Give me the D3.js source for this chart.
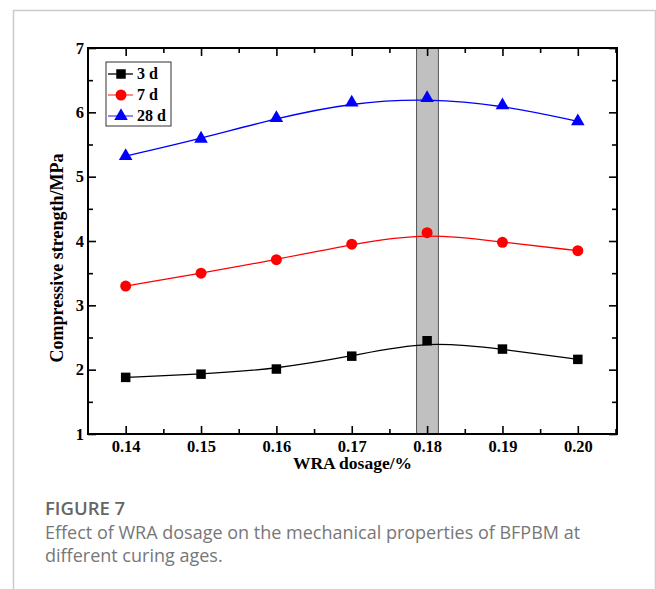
<!DOCTYPE html>
<meta charset="utf-8">
<style>
  body { margin: 0; background: #fff; }
  .tick text { font-family: "Liberation Serif", "Times New Roman", serif; font-weight: bold; font-size: 16.5px; }
  .cap { font-family: "Open Sans", "Noto Sans", sans-serif; }
</style>
<svg width="656" height="589"></svg>
<script src="https://cdn.jsdelivr.net/npm/d3@7"></script>
<script>
  var dosage = [0.14, 0.15, 0.16, 0.17, 0.18, 0.19, 0.20];
  var s3d = [1.88, 1.93, 2.01, 2.21, 2.45, 2.32, 2.16];
  var s7d = [3.30, 3.50, 3.71, 3.95, 4.13, 3.98, 3.85];
  var s28d = [5.32, 5.59, 5.91, 6.15, 6.22, 6.11, 5.86];
  var seriesNames = ["3 d", "7 d", "28 d"];
  var band = [0.1786, 0.1815];
  var xTicks = [0.14, 0.15, 0.16, 0.17, 0.18, 0.19, 0.20];
  var yTicks = [1, 2, 3, 4, 5, 6, 7];

  var svg = d3.select("svg");
  var pl = 88, pr = 617, pt = 48, pb = 434;

  // card border
  svg.append("path")
      .attr("d", "M13.5,589V10.5H655.5V589")
      .attr("fill", "none").attr("stroke", "#cccccc").attr("stroke-width", 1.5);

  var x = d3.scaleLinear().domain([0.135, 0.2052]).range([pl, pr]);
  var y = d3.scaleLinear().domain([1, 7]).range([pb, pt]);

  // highlighted band
  svg.append("rect")
      .attr("x", x(band[0])).attr("y", pt)
      .attr("width", x(band[1]) - x(band[0])).attr("height", pb - pt)
      .attr("fill", "#c0c0c0").attr("stroke", "#555").attr("stroke-width", 1);

  var minorX = d3.range(0.145, 0.2051, 0.01).map(function(d) { return +d.toFixed(3); });
  var minorY = d3.range(1.5, 7, 1);

  function frameAxis(axisFn, scale, pos, major, minor, labels) {
    var g = svg.append("g").attr("transform", pos);
    g.call(axisFn(scale).tickValues(major).tickSize(-8).tickPadding(labels ? 10 : 0)
        .tickFormat(labels ? labels : ""));
    g.selectAll(".tick line").attr("stroke-width", 1.6);
    g.select(".domain").remove();
    var m = svg.append("g").attr("transform", pos);
    m.call(axisFn(scale).tickValues(minor).tickSize(-5).tickFormat(""));
    m.selectAll(".tick line").attr("stroke-width", 1.6);
    m.select(".domain").remove();
    return g;
  }

  var bx = frameAxis(d3.axisBottom, x, "translate(0," + pb + ")", xTicks, minorX, d3.format(".2f"));
  bx.selectAll(".tick text").attr("y", 17.5).attr("dy", 0).attr("fill", "#000");
  frameAxis(d3.axisTop, x, "translate(0," + pt + ")", xTicks, minorX, null);
  var ly = frameAxis(d3.axisLeft, y, "translate(" + pl + ",0)", yTicks, minorY, d3.format("d"));
  ly.selectAll(".tick text").attr("x", -4).attr("fill", "#000");
  frameAxis(d3.axisRight, y, "translate(" + pr + ",0)", yTicks, minorY, null);

  svg.append("rect")
      .attr("x", pl).attr("y", pt).attr("width", pr - pl).attr("height", pb - pt)
      .attr("fill", "none").attr("stroke", "#000").attr("stroke-width", 2);

  var series = [
    { name: seriesNames[0], values: s3d, color: "#000000", shape: d3.symbolSquare, size: 90 },
    { name: seriesNames[1], values: s7d, color: "#ff0000", shape: d3.symbolCircle, size: 95 },
    { name: seriesNames[2], values: s28d, color: "#0000ff", shape: d3.symbolTriangle, size: 80 }
  ];

  var line = d3.line()
      .x(function(d, i) { return x(dosage[i]); })
      .y(function(d) { return y(d); })
      .curve(d3.curveBasis);

  series.forEach(function(s) {
    svg.append("path")
        .attr("d", line(s.values))
        .attr("fill", "none").attr("stroke", s.color).attr("stroke-width", 1.3);
    svg.append("g").selectAll("path")
      .data(s.values).enter().append("path")
        .attr("transform", function(d, i) { return "translate(" + x(dosage[i]) + "," + y(d) + ")"; })
        .attr("d", d3.symbol().type(s.shape).size(s.size))
        .attr("fill", s.color);
  });

  // legend
  var lg = svg.append("g").attr("transform", "translate(106,62)");
  lg.append("rect").attr("width", 65).attr("height", 64)
      .attr("fill", "#fff").attr("stroke", "#333").attr("stroke-width", 1);
  series.forEach(function(s, i) {
    var yy = 12 + i * 21;
    lg.append("line").attr("x1", 2).attr("x2", 27).attr("y1", yy).attr("y2", yy)
        .attr("stroke", s.color).attr("stroke-width", 1.3).attr("opacity", i ? 0.7 : 1);
    lg.append("path").attr("transform", "translate(15," + yy + ")")
        .attr("d", d3.symbol().type(s.shape).size(s.size)).attr("fill", s.color);
    lg.append("text").attr("x", 31).attr("y", yy + 5)
        .attr("font-family", "Liberation Serif, serif").attr("font-weight", "bold")
        .attr("font-size", 16).text(s.name);
  });

  // axis titles
  svg.append("text")
      .attr("x", (pl + pr) / 2).attr("y", 469)
      .attr("text-anchor", "middle")
      .attr("font-family", "Liberation Serif, serif").attr("font-weight", "bold").attr("font-size", 17.5)
      .text("WRA dosage/%");
  svg.append("text")
      .attr("transform", "translate(63," + ((pt + pb) / 2 + 17) + ") rotate(-90)")
      .attr("text-anchor", "middle")
      .attr("font-family", "Liberation Serif, serif").attr("font-weight", "bold").attr("font-size", 18)
      .text("Compressive strength/MPa");

  // caption
  svg.append("text").attr("class", "cap").attr("x", 45).attr("y", 515)
      .attr("font-size", 18.5).attr("font-weight", 600).attr("fill", "#666")
      .text("FIGURE 7");
  svg.append("text").attr("class", "cap").attr("x", 45).attr("y", 539)
      .attr("font-size", 18).attr("fill", "#777")
      .text("Effect of WRA dosage on the mechanical properties of BFPBM at");
  svg.append("text").attr("class", "cap").attr("x", 45).attr("y", 562)
      .attr("font-size", 18).attr("fill", "#777")
      .text("different curing ages.");
</script>
